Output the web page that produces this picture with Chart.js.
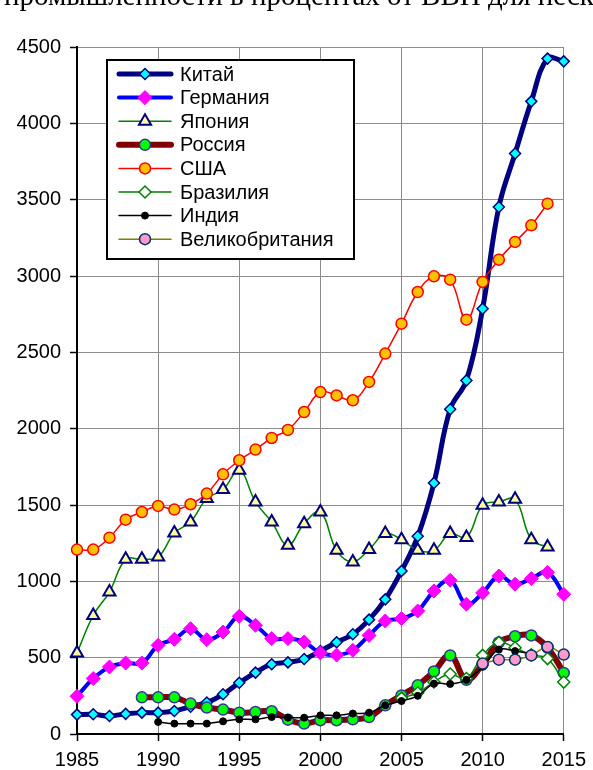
<!DOCTYPE html>
<html>
<head>
<meta charset="utf-8">
<script src="https://cdn.jsdelivr.net/npm/chart.js@4.4.1/dist/chart.umd.min.js"></script>
<style>
  html, body { margin: 0; padding: 0; background: #fff; overflow: hidden; }
  #wrap { position: relative; width: 593px; height: 770px; overflow: hidden; }
  #title { position: absolute; left: 4px; top: -19px; font: 29px "Liberation Serif", "Times New Roman", serif; line-height: 29px; white-space: nowrap; color: #000; }
  canvas { position: absolute; left: 0; top: 0; }
</style>
</head>
<body>
<div id="wrap">
  <canvas id="c" width="593" height="770"></canvas>
  <div id="title">промышленности в процентах от ВВП для нескольких стран</div>
</div>
<script>
const years = [1985,1986,1987,1988,1989,1990,1991,1992,1993,1994,1995,1996,1997,1998,1999,2000,2001,2002,2003,2004,2005,2006,2007,2008,2009,2010,2011,2012,2013,2014,2015];
const seriesNames = ["Китай","Германия","Япония","Россия","США","Бразилия","Индия","Великобритания"];
const china   = [127,129,118,132,140,140,151,179,206,260,336,402,457,469,491,544,601,653,749,882,1068,1295,1644,2127,2316,2786,3452,3802,4144,4424,4406];
const germany = [247,363,439,465,465,581,620,690,618,668,771,712,625,625,603,531,517,548,646,740,756,806,937,1007,850,924,1035,981,1018,1059,915];
const japan   = [530,777,930,1144,1144,1160,1317,1389,1542,1601,1727,1520,1389,1236,1378,1454,1203,1127,1208,1313,1273,1203,1203,1313,1287,1498,1520,1537,1273,1225,null];
const russia  = [null,null,null,null,240,240,240,199,173,160,140,144,149,94,68,90,90,96,111,188,253,319,410,515,355,458,600,640,646,566,400];
const usa     = [1208,1208,1286,1404,1454,1494,1470,1505,1575,1701,1793,1863,1939,1992,2109,2240,2218,2186,2306,2492,2688,2895,2998,2976,2714,2961,3107,3223,3332,3474,null];
const brazil  = [null,null,null,null,null,null,null,null,null,null,null,null,null,null,null,null,null,null,null,null,235,270,341,393,363,515,600,565,518,494,340];
const india   = [null,null,null,null,null,79,68,68,68,83,96,96,111,107,107,122,122,134,140,188,216,250,330,328,355,440,553,543,525,null,null];
const uk      = [null,null,null,null,null,null,null,null,null,null,null,null,null,null,null,null,null,null,null,null,null,null,null,null,null,461,487,487,515,570,520];
const yTickLabels = ["0","500","1000","1500","2000","2500","3000","3500","4000","4500"];
const xTickLabels = ["1985","1990","1995","2000","2005","2010","2015"];

const styles = [
  {line:'#000080', lw:5,   ps:'rectRot',  r:5.5, fill:'#00FFFF', border:'#000080', bw:1.5},
  {line:'#0000FF', lw:4,   ps:'rectRot',  r:7,   fill:'#FF00FF', border:'#FF00FF', bw:1},
  {line:'#008000', lw:1.5, ps:'triangle', r:7,   fill:'#FFFF99', border:'#000080', bw:2},
  {line:'#800000', lw:6,   ps:'circle',   r:5.5, fill:'#00FF00', border:'#333399', bw:1.5},
  {line:'#FF0000', lw:1.5, ps:'circle',   r:5.5, fill:'#FFC000', border:'#FF0000', bw:1.5},
  {line:'#008000', lw:1.5, ps:'rectRot',  r:6,   fill:'#FFFFFF', border:'#008000', bw:1.5},
  {line:'#000000', lw:1.5, ps:'circle',   r:3.5, fill:'#000000', border:'#000000', bw:1},
  {line:'#808000', lw:1.5, ps:'circle',   r:5.5, fill:'#FF99CC', border:'#003366', bw:1.5}
];
const allData = [china, germany, japan, russia, usa, brazil, india, uk];

const datasets = allData.map((arr, i) => ({
  label: seriesNames[i],
  data: years.map((y, k) => ({x: y, y: arr[k]})),
  borderColor: styles[i].line,
  borderWidth: styles[i].lw,
  backgroundColor: styles[i].fill,
  pointStyle: styles[i].ps,
  pointRadius: styles[i].r,
  pointBackgroundColor: styles[i].fill,
  pointBorderColor: styles[i].border,
  pointBorderWidth: styles[i].bw,
  tension: 0.4,
  spanGaps: false,
  fill: false,
  clip: false,
  order: allData.length - i
}));

const legendBox = {
  id: 'legendBox',
  afterDraw(chart) {
    const ctx = chart.ctx;
    const x0 = 107, y0 = 60, w = 247, h = 199;
    ctx.save();
    ctx.fillStyle = '#fff';
    ctx.fillRect(x0, y0, w, h);
    ctx.lineWidth = 2;
    ctx.strokeStyle = '#000';
    ctx.strokeRect(x0, y0, w, h);
    ctx.font = '20px "Liberation Sans", Arial, sans-serif';
    ctx.textBaseline = 'middle';
    ctx.textAlign = 'left';
    for (let i = 0; i < seriesNames.length; i++) {
      const s = styles[i];
      const cy = 74 + i * 23.6;
      ctx.lineCap = 'round';
      ctx.strokeStyle = s.line;
      ctx.lineWidth = s.lw;
      ctx.beginPath();
      ctx.moveTo(119, cy);
      ctx.lineTo(171, cy);
      ctx.stroke();
      ctx.fillStyle = s.fill;
      ctx.strokeStyle = s.border;
      ctx.lineWidth = s.bw;
      Chart.helpers.drawPoint(ctx, {pointStyle: s.ps, radius: s.r, rotation: 0, borderWidth: s.bw}, 145, cy);
      ctx.fillStyle = '#000';
      ctx.fillText(seriesNames[i], 180, cy + 1);
    }
    ctx.restore();
  }
};

new Chart(document.getElementById('c'), {
  type: 'line',
  data: { datasets },
  options: {
    responsive: false,
    animation: false,
    devicePixelRatio: 1,
    layout: { padding: { top: 47, right: 24, left: 0, bottom: 0 } },
    plugins: { legend: { display: false }, tooltip: { enabled: false }, title: { display: false } },
    elements: { line: { capBezierPoints: true } },
    scales: {
      x: {
        type: 'linear', min: 1985, max: 2015,
        afterFit(scale) { scale.height = 36; },
        ticks: {
          stepSize: 5, autoSkip: false, maxRotation: 0, padding: 7,
          color: '#000',
          font: { family: '"Liberation Sans", Arial, sans-serif', size: 20 },
          callback: (v) => { const s = String(v); return xTickLabels.includes(s) ? s : null; }
        },
        grid: { color: '#8c8c8c', lineWidth: 1, tickColor: '#000', tickLength: 7, tickWidth: 1.5 },
        border: { color: '#000', width: 2 }
      },
      y: {
        type: 'linear', min: 0, max: 4500,
        afterFit(scale) { scale.width = 77; },
        ticks: {
          stepSize: 100, autoSkip: false, padding: 9,
          color: '#000',
          font: { family: '"Liberation Sans", Arial, sans-serif', size: 20 },
          callback: (v) => { const s = String(v); return yTickLabels.includes(s) ? s : null; }
        },
        grid: {
          color: (c) => (c.tick && c.tick.value % 500 === 0) ? '#8c8c8c' : '#c8c8c8',
          lineWidth: 1,
          tickColor: (c) => (c.tick && c.tick.value % 500 === 0) ? '#000' : 'rgba(0,0,0,0)',
          tickLength: 7, tickWidth: 1.5
        },
        border: { color: '#000', width: 2 }
      }
    }
  },
  plugins: [legendBox]
});
</script>
</body>
</html>
